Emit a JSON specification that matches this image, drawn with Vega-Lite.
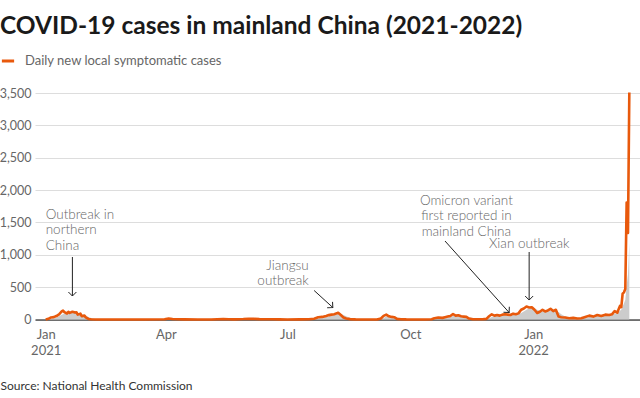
{
  "$schema": "https://vega.github.io/schema/vega-lite/v6.json",
  "autosize": "none",
  "width": 605,
  "height": 226.5,
  "padding": {"left": 35, "top": 93, "right": 0, "bottom": 78.5},
  "background": "#ffffff",
  "title": {
    "text": "COVID-19 cases in mainland China (2021-2022)",
    "anchor": "start",
    "frame": "group",
    "dx": -35,
    "offset": 14,
    "font": "Lato",
    "fontSize": 24.5,
    "fontWeight": "bold",
    "color": "#1a1a1a"
  },
  "datasets": {
    "cases": [
      {"date": "2021-01-01", "value": 1, "avg": 1},
      {"date": "2021-01-03", "value": 11, "avg": 4},
      {"date": "2021-01-05", "value": 32, "avg": 12},
      {"date": "2021-01-07", "value": 37, "avg": 20},
      {"date": "2021-01-09", "value": 53, "avg": 32},
      {"date": "2021-01-11", "value": 80, "avg": 50},
      {"date": "2021-01-13", "value": 125, "avg": 72},
      {"date": "2021-01-14", "value": 138, "avg": 82},
      {"date": "2021-01-15", "value": 115, "avg": 90},
      {"date": "2021-01-17", "value": 93, "avg": 100},
      {"date": "2021-01-18", "value": 118, "avg": 105},
      {"date": "2021-01-19", "value": 103, "avg": 107},
      {"date": "2021-01-21", "value": 120, "avg": 108},
      {"date": "2021-01-23", "value": 107, "avg": 107},
      {"date": "2021-01-24", "value": 112, "avg": 106},
      {"date": "2021-01-25", "value": 75, "avg": 102},
      {"date": "2021-01-27", "value": 90, "avg": 95},
      {"date": "2021-01-28", "value": 50, "avg": 85},
      {"date": "2021-01-30", "value": 60, "avg": 70},
      {"date": "2021-01-31", "value": 33, "avg": 60},
      {"date": "2021-02-02", "value": 8, "avg": 40},
      {"date": "2021-02-04", "value": 3, "avg": 22},
      {"date": "2021-02-08", "value": 1, "avg": 5},
      {"date": "2021-02-15", "value": 0, "avg": 1},
      {"date": "2021-03-01", "value": 0, "avg": 0},
      {"date": "2021-03-15", "value": 1, "avg": 1},
      {"date": "2021-03-31", "value": 5, "avg": 2},
      {"date": "2021-04-03", "value": 15, "avg": 8},
      {"date": "2021-04-06", "value": 8, "avg": 10},
      {"date": "2021-04-10", "value": 4, "avg": 7},
      {"date": "2021-04-15", "value": 2, "avg": 3},
      {"date": "2021-04-25", "value": 0, "avg": 1},
      {"date": "2021-05-05", "value": 1, "avg": 1},
      {"date": "2021-05-14", "value": 7, "avg": 3},
      {"date": "2021-05-18", "value": 3, "avg": 4},
      {"date": "2021-05-22", "value": 2, "avg": 3},
      {"date": "2021-05-29", "value": 7, "avg": 4},
      {"date": "2021-06-02", "value": 12, "avg": 8},
      {"date": "2021-06-06", "value": 10, "avg": 10},
      {"date": "2021-06-10", "value": 6, "avg": 8},
      {"date": "2021-06-15", "value": 5, "avg": 6},
      {"date": "2021-06-20", "value": 3, "avg": 4},
      {"date": "2021-06-25", "value": 2, "avg": 3},
      {"date": "2021-07-01", "value": 1, "avg": 2},
      {"date": "2021-07-10", "value": 2, "avg": 2},
      {"date": "2021-07-17", "value": 3, "avg": 3},
      {"date": "2021-07-21", "value": 12, "avg": 6},
      {"date": "2021-07-24", "value": 35, "avg": 18},
      {"date": "2021-07-27", "value": 40, "avg": 30},
      {"date": "2021-07-30", "value": 55, "avg": 42},
      {"date": "2021-08-01", "value": 68, "avg": 52},
      {"date": "2021-08-03", "value": 75, "avg": 62},
      {"date": "2021-08-05", "value": 82, "avg": 72},
      {"date": "2021-08-07", "value": 95, "avg": 80},
      {"date": "2021-08-08", "value": 105, "avg": 85},
      {"date": "2021-08-10", "value": 70, "avg": 85},
      {"date": "2021-08-12", "value": 30, "avg": 70},
      {"date": "2021-08-14", "value": 15, "avg": 50},
      {"date": "2021-08-17", "value": 6, "avg": 22},
      {"date": "2021-08-21", "value": 2, "avg": 6},
      {"date": "2021-08-25", "value": 0, "avg": 1},
      {"date": "2021-09-01", "value": 0, "avg": 0},
      {"date": "2021-09-06", "value": 0, "avg": 0},
      {"date": "2021-09-09", "value": 15, "avg": 5},
      {"date": "2021-09-11", "value": 55, "avg": 25},
      {"date": "2021-09-13", "value": 75, "avg": 45},
      {"date": "2021-09-15", "value": 50, "avg": 52},
      {"date": "2021-09-17", "value": 40, "avg": 50},
      {"date": "2021-09-19", "value": 35, "avg": 42},
      {"date": "2021-09-21", "value": 10, "avg": 30},
      {"date": "2021-09-24", "value": 5, "avg": 15},
      {"date": "2021-09-28", "value": 2, "avg": 4},
      {"date": "2021-10-05", "value": 0, "avg": 1},
      {"date": "2021-10-12", "value": 0, "avg": 0},
      {"date": "2021-10-17", "value": 5, "avg": 2},
      {"date": "2021-10-19", "value": 20, "avg": 8},
      {"date": "2021-10-22", "value": 30, "avg": 18},
      {"date": "2021-10-25", "value": 25, "avg": 25},
      {"date": "2021-10-27", "value": 35, "avg": 30},
      {"date": "2021-10-29", "value": 45, "avg": 35},
      {"date": "2021-10-31", "value": 55, "avg": 42},
      {"date": "2021-11-02", "value": 85, "avg": 55},
      {"date": "2021-11-04", "value": 60, "avg": 60},
      {"date": "2021-11-06", "value": 65, "avg": 62},
      {"date": "2021-11-08", "value": 50, "avg": 60},
      {"date": "2021-11-10", "value": 45, "avg": 52},
      {"date": "2021-11-12", "value": 40, "avg": 45},
      {"date": "2021-11-14", "value": 15, "avg": 35},
      {"date": "2021-11-17", "value": 5, "avg": 18},
      {"date": "2021-11-20", "value": 3, "avg": 6},
      {"date": "2021-11-24", "value": 5, "avg": 4},
      {"date": "2021-11-27", "value": 10, "avg": 6},
      {"date": "2021-11-29", "value": 50, "avg": 20},
      {"date": "2021-12-01", "value": 80, "avg": 40},
      {"date": "2021-12-03", "value": 60, "avg": 55},
      {"date": "2021-12-05", "value": 70, "avg": 62},
      {"date": "2021-12-07", "value": 60, "avg": 65},
      {"date": "2021-12-09", "value": 75, "avg": 68},
      {"date": "2021-12-11", "value": 80, "avg": 70},
      {"date": "2021-12-13", "value": 75, "avg": 72},
      {"date": "2021-12-15", "value": 70, "avg": 74},
      {"date": "2021-12-17", "value": 90, "avg": 78},
      {"date": "2021-12-19", "value": 80, "avg": 80},
      {"date": "2021-12-21", "value": 95, "avg": 84},
      {"date": "2021-12-23", "value": 150, "avg": 100},
      {"date": "2021-12-25", "value": 170, "avg": 125},
      {"date": "2021-12-27", "value": 200, "avg": 150},
      {"date": "2021-12-29", "value": 185, "avg": 170},
      {"date": "2021-12-31", "value": 190, "avg": 180},
      {"date": "2022-01-02", "value": 150, "avg": 175},
      {"date": "2022-01-04", "value": 100, "avg": 150},
      {"date": "2022-01-06", "value": 120, "avg": 130},
      {"date": "2022-01-08", "value": 150, "avg": 125},
      {"date": "2022-01-10", "value": 125, "avg": 130},
      {"date": "2022-01-12", "value": 140, "avg": 135},
      {"date": "2022-01-14", "value": 165, "avg": 140},
      {"date": "2022-01-16", "value": 130, "avg": 140},
      {"date": "2022-01-18", "value": 150, "avg": 140},
      {"date": "2022-01-20", "value": 45, "avg": 115},
      {"date": "2022-01-22", "value": 35, "avg": 80},
      {"date": "2022-01-25", "value": 30, "avg": 45},
      {"date": "2022-01-28", "value": 20, "avg": 30},
      {"date": "2022-01-31", "value": 25, "avg": 25},
      {"date": "2022-02-03", "value": 15, "avg": 20},
      {"date": "2022-02-06", "value": 20, "avg": 20},
      {"date": "2022-02-09", "value": 40, "avg": 28},
      {"date": "2022-02-12", "value": 60, "avg": 40},
      {"date": "2022-02-15", "value": 45, "avg": 48},
      {"date": "2022-02-18", "value": 70, "avg": 55},
      {"date": "2022-02-21", "value": 55, "avg": 60},
      {"date": "2022-02-24", "value": 75, "avg": 65},
      {"date": "2022-02-27", "value": 70, "avg": 70},
      {"date": "2022-03-01", "value": 80, "avg": 75},
      {"date": "2022-03-03", "value": 130, "avg": 90},
      {"date": "2022-03-05", "value": 105, "avg": 105},
      {"date": "2022-03-06", "value": 160, "avg": 115},
      {"date": "2022-03-07", "value": 210, "avg": 135},
      {"date": "2022-03-08", "value": 190, "avg": 150},
      {"date": "2022-03-09", "value": 400, "avg": 200},
      {"date": "2022-03-10", "value": 420, "avg": 250},
      {"date": "2022-03-11", "value": 470, "avg": 300},
      {"date": "2022-03-12", "value": 1807, "avg": 520},
      {"date": "2022-03-13", "value": 1337, "avg": 700},
      {"date": "2022-03-14", "value": 3507, "avg": 1180}
    ],
    "notes": [
      {"name": "north", "date": "2021-01-01", "value": 1730, "label": "Outbreak in\nnorthern\nChina"},
      {"name": "jiangsu", "date": "2021-07-17", "value": 942, "label": "Jiangsu\noutbreak"},
      {"name": "omicron", "date": "2021-11-12", "value": 1947, "label": "Omicron variant\nfirst reported in\nmainland China"},
      {"name": "xian", "date": "2021-12-29", "value": 1282, "label": "Xian outbreak"}
    ],
    "arrows": [
      {"name": "north", "date": "2021-01-21", "value": 966, "date2": "2021-01-21", "value2": 363},
      {"name": "jiangsu", "date": "2021-07-21", "value": 448, "date2": "2021-08-04", "value2": 185},
      {"name": "omicron", "date": "2021-10-27", "value": 1213, "date2": "2021-12-14", "value2": 108},
      {"name": "xian", "date": "2021-12-29", "value": 1043, "date2": "2021-12-29", "value2": 301}
    ]
  },
  "encoding": {
    "x": {
      "field": "date",
      "type": "temporal",
      "scale": {
        "type": "utc",
        "domain": [
          {"year": 2020, "month": 12, "date": 24, "utc": true},
          {"year": 2022, "month": 3, "date": 22, "utc": true}
        ]
      },
      "axis": {
        "tickCount": {"interval": "month", "step": 3},
        "labelExpr": "utcFormat(datum.value, '%m') == '01' ? [utcFormat(datum.value, '%b'), utcFormat(datum.value, '%Y')] : utcFormat(datum.value, '%b')",
        "grid": false,
        "ticks": false,
        "domain": true,
        "domainColor": "#000000",
        "domainWidth": 1,
        "labelPadding": 9,
        "labelFont": "Lato",
        "labelFontSize": 13,
        "labelColor": "#666666",
        "labelLineHeight": 16,
        "labelBaseline": "top",
        "title": "Source: National Health Commission",
        "titleFont": "Lato",
        "titleFontSize": 12,
        "titleFontWeight": "normal",
        "titleColor": "#333333",
        "titleAnchor": "start",
        "titleAlign": "left",
        "titleBaseline": "middle",
        "titleX": -35,
        "titleY": 65.5
      }
    },
    "y": {
      "field": "value",
      "type": "quantitative",
      "scale": {"domain": [0, 3500], "nice": false},
      "axis": {
        "values": [0, 500, 1000, 1500, 2000, 2500, 3000, 3500],
        "labelExpr": "format(datum.value, ',.0f')",
        "title": null,
        "domain": false,
        "ticks": false,
        "grid": true,
        "gridColor": "#dddddd",
        "gridWidth": 1,
        "labelPadding": 4,
        "labelFont": "Lato",
        "labelFontSize": 12.5,
        "labelColor": "#666666"
      }
    }
  },
  "layer": [
    {
      "data": {"name": "cases"},
      "mark": {"type": "area", "color": "#cccccc", "interpolate": "linear"},
      "encoding": {"y": {"field": "avg", "type": "quantitative"}}
    },
    {
      "data": {"name": "cases"},
      "mark": {"type": "line", "strokeWidth": 2.6, "strokeJoin": "round"},
      "encoding": {
        "color": {
          "datum": "Daily new local symptomatic cases",
          "scale": {"range": ["#e8590c"]},
          "legend": {
            "orient": "none",
            "legendX": -35,
            "legendY": -40,
            "title": null,
            "symbolType": "stroke",
            "symbolSize": 150,
            "symbolStrokeWidth": 3,
            "labelFont": "Lato",
            "labelFontSize": 13,
            "labelColor": "#666666",
            "labelOffset": 9,
            "labelLimit": 400,
            "padding": 0
          }
        }
      }
    },
    {
      "data": {"name": "arrows"},
      "mark": {"type": "rule", "color": "#222222", "strokeWidth": 1},
      "encoding": {
        "x2": {"field": "date2"},
        "y2": {"field": "value2"}
      }
    },
    {
      "data": {"name": "arrows"},
      "transform": [{"filter": "datum.name == 'north' || datum.name == 'xian'"}],
      "mark": {"type": "point", "shape": "M-1,-1L0,0L1,-1", "filled": false, "stroke": "#222222", "strokeWidth": 1, "size": 64, "opacity": 1},
      "encoding": {
        "x": {"field": "date2", "type": "temporal"},
        "y": {"field": "value2", "type": "quantitative"}
      }
    },
    {
      "data": {"name": "arrows"},
      "transform": [{"filter": "datum.name == 'jiangsu'"}],
      "mark": {"type": "point", "shape": "M-1,-1L0,0L1,-1", "filled": false, "stroke": "#222222", "strokeWidth": 1, "size": 64, "opacity": 1, "angle": 312},
      "encoding": {
        "x": {"field": "date2", "type": "temporal"},
        "y": {"field": "value2", "type": "quantitative"}
      }
    },
    {
      "data": {"name": "arrows"},
      "transform": [{"filter": "datum.name == 'omicron'"}],
      "mark": {"type": "point", "shape": "M-1,-1L0,0L1,-1", "filled": false, "stroke": "#222222", "strokeWidth": 1, "size": 64, "opacity": 1, "angle": 317},
      "encoding": {
        "x": {"field": "date2", "type": "temporal"},
        "y": {"field": "value2", "type": "quantitative"}
      }
    },
    {
      "data": {"name": "notes"},
      "transform": [{"filter": "datum.name == 'north'"}],
      "mark": {"type": "text", "align": "left", "baseline": "top", "lineBreak": "\n", "lineHeight": 15.5, "font": "Lato", "fontSize": 13.5, "fontWeight": 300, "color": "#666666"},
      "encoding": {"text": {"field": "label"}}
    },
    {
      "data": {"name": "notes"},
      "transform": [{"filter": "datum.name == 'jiangsu'"}],
      "mark": {"type": "text", "align": "right", "baseline": "top", "lineBreak": "\n", "lineHeight": 15.5, "font": "Lato", "fontSize": 13.5, "fontWeight": 300, "color": "#666666"},
      "encoding": {"text": {"field": "label"}}
    },
    {
      "data": {"name": "notes"},
      "transform": [{"filter": "datum.name == 'omicron' || datum.name == 'xian'"}],
      "mark": {"type": "text", "align": "center", "baseline": "top", "lineBreak": "\n", "lineHeight": 15.5, "font": "Lato", "fontSize": 13.5, "fontWeight": 300, "color": "#666666"},
      "encoding": {"text": {"field": "label"}}
    }
  ],
  "config": {"view": {"stroke": null}}
}
